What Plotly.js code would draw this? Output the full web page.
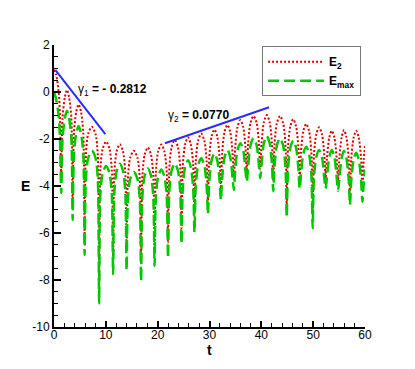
<!DOCTYPE html>
<html>
<head>
<meta charset="utf-8">
<script src="https://cdn.plot.ly/plotly-3.0.1.min.js"></script>
<style>
  html, body { margin: 0; padding: 0; background: #fff; }
  #plot { width: 415px; height: 369px; }
</style>
</head>
<body>
<div id="plot"></div>
<script>
// time samples (dips, shoulders and peaks of each arch)
const t = [
    0, 0.4, 0.9, 1.15, 1.4,
    1.65, 2.1, 2.5, 2.9, 3.35, 3.6,
    3.85, 4.3, 4.75, 5.2, 5.65, 5.9,
    6.15, 6.6, 7.3, 8.0, 8.45, 8.7,
    8.95, 9.4, 10.05, 10.7, 11.15, 11.4,
    11.65, 12.1, 12.7, 13.3, 13.75, 14.0,
    14.25, 14.7, 15.4, 16.1, 16.55, 16.8,
    17.05, 17.5, 18.1, 18.7, 19.15, 19.4,
    19.65, 20.1, 20.7, 21.3, 21.75, 22.0,
    22.25, 22.7, 23.3, 23.9, 24.35, 24.6,
    24.85, 25.3, 25.85, 26.4, 26.85, 27.1,
    27.35, 27.8, 28.4, 29.0, 29.45, 29.7,
    29.95, 30.4, 30.95, 31.5, 31.95, 32.2,
    32.45, 32.9, 33.45, 34.0, 34.45, 34.7,
    34.95, 35.4, 35.95, 36.5, 36.95, 37.2,
    37.45, 37.9, 38.5, 39.1, 39.55, 39.8,
    40.05, 40.5, 41.05, 41.6, 42.05, 42.3,
    42.55, 43.0, 43.6, 44.2, 44.65, 44.9,
    45.15, 45.6, 46.15, 46.7, 47.15, 47.4,
    47.65, 48.1, 48.65, 49.2, 49.65, 49.9,
    50.15, 50.6, 51.15, 51.7, 52.15, 52.4,
    52.65, 53.1, 53.6, 54.1, 54.55, 54.8,
    55.05, 55.5, 55.95, 56.4, 56.85, 57.1,
    57.35, 57.8, 58.3, 58.8, 59.25, 59.5,
    59.75, 60
];

const e2 = [
    0.95, 0.75, 0.0, -1.0, -3.6,
    -1.11, -0.21, 0.09, -0.21, -1.11, -4.8,
    -1.73, -0.83, -0.53, -0.83, -1.73, -6.1,
    -2.68, -1.78, -1.48, -1.78, -2.68, -8.1,
    -3.31, -2.41, -2.11, -2.41, -3.31, -7.0,
    -3.42, -2.52, -2.22, -2.52, -3.42, -6.5,
    -3.70, -2.80, -2.50, -2.80, -3.70, -7.3,
    -3.56, -2.66, -2.36, -2.66, -3.56, -6.8,
    -3.43, -2.53, -2.23, -2.53, -3.43, -6.4,
    -3.24, -2.34, -2.04, -2.34, -3.24, -5.8,
    -3.13, -2.23, -1.93, -2.23, -3.13, -5.3,
    -2.97, -2.07, -1.77, -2.07, -2.97, -4.6,
    -2.80, -1.90, -1.60, -1.90, -2.80, -4.1,
    -2.60, -1.70, -1.40, -1.70, -2.60, -3.7,
    -2.39, -1.49, -1.19, -1.49, -2.39, -3.4,
    -2.22, -1.32, -1.02, -1.32, -2.22, -3.3,
    -2.18, -1.28, -0.98, -1.28, -2.18, -3.8,
    -2.22, -1.32, -1.02, -1.32, -2.22, -4.8,
    -2.36, -1.46, -1.16, -1.46, -2.36, -3.7,
    -2.56, -1.66, -1.36, -1.66, -2.56, -5.2,
    -2.70, -1.80, -1.50, -1.80, -2.70, -3.7,
    -2.85, -1.95, -1.65, -1.95, -2.85, -3.8,
    -2.82, -1.92, -1.62, -1.92, -2.82, -4.3,
    -2.85, -1.95, -1.65, -1.95, -2.85, -4.2,
    -2.9, -2.3
];

const emax = [
    0.0, -0.3, -1.0, -2.0, -4.3,
    -2.00, -1.10, -0.80, -1.10, -2.00, -5.45,
    -2.65, -1.75, -1.45, -1.75, -2.65, -6.94,
    -3.70, -2.80, -2.50, -2.80, -3.70, -9.0,
    -4.35, -3.45, -3.15, -3.45, -4.35, -7.75,
    -4.25, -3.35, -3.05, -3.35, -4.25, -7.6,
    -4.60, -3.70, -3.40, -3.70, -4.60, -8.05,
    -4.45, -3.55, -3.25, -3.55, -4.45, -7.4,
    -4.50, -3.60, -3.30, -3.60, -4.50, -7.07,
    -4.24, -3.34, -3.04, -3.34, -4.24, -6.45,
    -4.10, -3.20, -2.90, -3.20, -4.10, -5.96,
    -4.02, -3.12, -2.82, -3.12, -4.02, -5.2,
    -3.81, -2.91, -2.61, -2.91, -3.81, -4.6,
    -3.67, -2.77, -2.47, -2.77, -3.67, -4.17,
    -3.38, -2.48, -2.18, -2.48, -3.38, -3.82,
    -3.17, -2.27, -1.97, -2.27, -3.17, -3.67,
    -3.07, -2.17, -1.87, -2.17, -3.07, -4.22,
    -3.17, -2.27, -1.97, -2.27, -3.17, -5.35,
    -3.27, -2.37, -2.07, -2.37, -3.27, -4.12,
    -3.53, -2.63, -2.33, -2.63, -3.53, -5.8,
    -3.67, -2.77, -2.47, -2.77, -3.67, -4.1,
    -3.67, -2.77, -2.47, -2.77, -3.67, -4.2,
    -3.70, -2.80, -2.50, -2.80, -3.70, -4.8,
    -3.78, -2.88, -2.58, -2.88, -3.78, -4.67,
    -3.9, -3.3
];

// growth-rate fit lines
const fit1_t = [0.25, 9.9];
const fit1_e = [0.94, -1.79];
const fit2_t = [21.4, 41.5];
const fit2_e = [-2.18, -0.65];

const xTicks = [0, 10, 20, 30, 40, 50, 60];
const yTicks = [-10, -8, -6, -4, -2, 0, 2];
const yTickText = ['-10', '-8', '-6', '-4', '-2', '0', '2'];

const font = 'Liberation Sans, Arial, sans-serif';

const traces = [
    {
        x: t, y: e2, mode: 'lines', name: '<b>E<sub>2</sub></b>',
        line: {color: '#e00000', width: 2, dash: '2px,2px', shape: 'spline', smoothing: 0.8}
    },
    {
        x: t, y: emax, mode: 'lines', name: '<b>E<sub>max</sub></b>',
        line: {color: '#00c800', width: 2.5, dash: '11px,5px', shape: 'spline', smoothing: 0.8}
    },
    {
        x: fit1_t, y: fit1_e, mode: 'lines', showlegend: false,
        line: {color: '#2b2bff', width: 2}
    },
    {
        x: fit2_t, y: fit2_e, mode: 'lines', showlegend: false,
        line: {color: '#2b2bff', width: 2}
    }
];

const layout = {
    width: 415,
    height: 369,
    margin: {l: 54, r: 50, t: 45, b: 42},
    paper_bgcolor: '#fff',
    plot_bgcolor: '#fff',
    font: {family: font, size: 12, color: '#000'},
    showlegend: true,
    legend: {
        x: 0.669, y: 0.996, xanchor: 'left', yanchor: 'top',
        bordercolor: '#777', borderwidth: 1, bgcolor: '#fff',
        font: {family: font, size: 12, color: '#000'},
        itemwidth: 56,
        tracegroupgap: 0
    },
    xaxis: {
        range: [0, 60],
        tickvals: xTicks,
        ticks: 'inside', ticklen: 6, tickwidth: 2, tickcolor: '#000',
        ticklabelstandoff: -4,
        minor: {dtick: 2, ticks: 'inside', ticklen: 4, tickwidth: 1, tickcolor: '#000'},
        showline: true, linecolor: '#000', linewidth: 2,
        showgrid: false, zeroline: false
    },
    yaxis: {
        range: [-10, 2],
        tickvals: yTicks,
        ticktext: yTickText,
        ticks: 'inside', ticklen: 7, tickwidth: 2, tickcolor: '#000',
        minor: {dtick: 0.5, ticks: 'inside', ticklen: 4, tickwidth: 1, tickcolor: '#000'},
        showline: true, linecolor: '#000', linewidth: 2,
        showgrid: false, zeroline: false
    },
    annotations: [
        // axis titles as annotations so that E stays upright
        {
            xref: 'paper', yref: 'paper', x: -0.093, y: 0.5, xanchor: 'center',
            text: '<b>E</b>', showarrow: false, font: {size: 14}
        },
        {
            xref: 'paper', yref: 'paper', x: 0.5, y: -0.08, xanchor: 'center', yanchor: 'middle',
            text: '<b>t</b>', showarrow: false, font: {size: 14}
        },
        {
            x: 11.2, y: 0.1, xanchor: 'center',
            text: 'γ<sub>1</sub><b> = - 0.2812</b>', showarrow: false, font: {size: 12}
        },
        {
            x: 27.8, y: -1.0, xanchor: 'center',
            text: 'γ<sub>2</sub><b> = 0.0770</b>', showarrow: false, font: {size: 12}
        }
    ]
};

Plotly.newPlot('plot', traces, layout, {displayModeBar: false, staticPlot: true});
</script>
</body>
</html>
